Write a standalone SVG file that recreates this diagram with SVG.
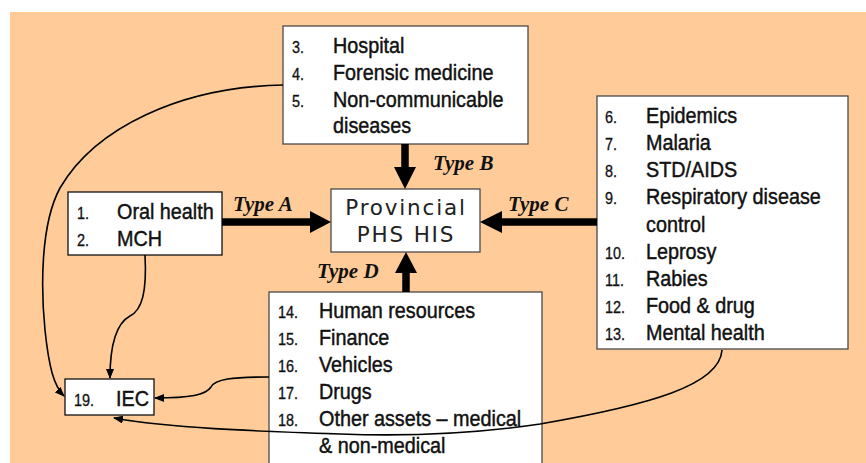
<svg xmlns="http://www.w3.org/2000/svg" width="866" height="463" viewBox="0 0 866 463">
  <style>
    .box { fill: #ffffff; stroke: #4a4a4a; stroke-width: 1.3; }
    .boxk { fill: #ffffff; stroke: #111111; stroke-width: 1.3; }
    .lbl { font-family: "Liberation Sans", Arial, sans-serif; font-size: 22px; fill: #111111; stroke: #111111; stroke-width: 0.45; }
    .num { font-family: "Liberation Sans", Arial, sans-serif; font-size: 16px; fill: #111111; stroke: #111111; stroke-width: 0.3; }
    .title { font-family: "DejaVu Sans", Verdana, sans-serif; font-size: 21.5px; letter-spacing: 1.8px; fill: #222222; text-anchor: middle; }
    .type { font-family: "Liberation Serif", "Times New Roman", serif; font-size: 21px; font-weight: bold; font-style: italic; fill: #111111; }
    .thick { stroke: #000000; stroke-width: 7.5; fill: none; }
    .head { fill: #000000; }
    .thin { stroke: #000000; stroke-width: 1.6; fill: none; marker-end: url(#tip); }
  </style>
  <defs>
    <marker id="tip" viewBox="0 0 10 8" refX="9" refY="4" markerWidth="10" markerHeight="8" markerUnits="userSpaceOnUse" orient="auto">
      <path d="M0,0 L10,4 L0,8 z" fill="#000000"/>
    </marker>
  </defs>

  <!-- peach backdrop -->
  <rect x="10" y="12" width="856" height="451" fill="#FFCC99"/>

  <!-- central node -->
  <g id="provincial-his">
    <rect class="box" x="331" y="189" width="149" height="63"/>
    <text class="title" x="406" y="215">Provincial</text>
    <text class="title" x="406" y="242">PHS HIS</text>
  </g>

  <!-- Type labels -->
  <g id="type-labels">
    <text class="type" x="233" y="211">Type A</text>
    <text class="type" x="433" y="170">Type B</text>
    <text class="type" x="508" y="211">Type C</text>
    <text class="type" x="317" y="278">Type D</text>
  </g>

  <!-- Type B sources -->
  <g id="node-b">
    <rect class="box" x="283" y="26" width="245" height="118"/>
    <text class="num" transform="translate(292 53) scale(0.9 1)">3.</text>
    <text class="num" transform="translate(292 80) scale(0.9 1)">4.</text>
    <text class="num" transform="translate(292 107) scale(0.9 1)">5.</text>
    <text class="lbl" transform="translate(333 53) scale(0.9 1)">Hospital</text>
    <text class="lbl" transform="translate(333 80) scale(0.9 1)">Forensic medicine</text>
    <text class="lbl" transform="translate(333 107) scale(0.9 1)">Non-communicable</text>
    <text class="lbl" transform="translate(333 133) scale(0.9 1)">diseases</text>
  </g>

  <!-- Type A sources -->
  <g id="node-a">
    <rect class="boxk" x="68" y="192" width="154" height="63"/>
    <text class="num" transform="translate(77 219) scale(0.9 1)">1.</text>
    <text class="num" transform="translate(77 246) scale(0.9 1)">2.</text>
    <text class="lbl" transform="translate(117 219) scale(0.9 1)">Oral health</text>
    <text class="lbl" transform="translate(117 246) scale(0.9 1)">MCH</text>
  </g>

  <!-- Type C sources -->
  <g id="node-c">
    <rect class="box" x="597" y="96" width="251" height="253"/>
    <text class="num" transform="translate(605 123) scale(0.9 1)">6.</text>
    <text class="num" transform="translate(605 150) scale(0.9 1)">7.</text>
    <text class="num" transform="translate(605 177) scale(0.9 1)">8.</text>
    <text class="num" transform="translate(605 204) scale(0.9 1)">9.</text>
    <text class="num" transform="translate(605 259) scale(0.9 1)">10.</text>
    <text class="num" transform="translate(605 286) scale(0.9 1)">11.</text>
    <text class="num" transform="translate(605 313) scale(0.9 1)">12.</text>
    <text class="num" transform="translate(605 340) scale(0.9 1)">13.</text>
    <text class="lbl" transform="translate(646 123) scale(0.9 1)">Epidemics</text>
    <text class="lbl" transform="translate(646 150) scale(0.9 1)">Malaria</text>
    <text class="lbl" transform="translate(646 177) scale(0.9 1)">STD/AIDS</text>
    <text class="lbl" transform="translate(646 204) scale(0.9 1)">Respiratory disease</text>
    <text class="lbl" transform="translate(646 232) scale(0.9 1)">control</text>
    <text class="lbl" transform="translate(646 259) scale(0.9 1)">Leprosy</text>
    <text class="lbl" transform="translate(646 286) scale(0.9 1)">Rabies</text>
    <text class="lbl" transform="translate(646 313) scale(0.9 1)">Food &amp; drug</text>
    <text class="lbl" transform="translate(646 340) scale(0.9 1)">Mental health</text>
  </g>

  <!-- Type D sources -->
  <g id="node-d">
    <rect class="box" x="269" y="292" width="273" height="180"/>
    <text class="num" transform="translate(278 318) scale(0.9 1)">14.</text>
    <text class="num" transform="translate(278 345) scale(0.9 1)">15.</text>
    <text class="num" transform="translate(278 372) scale(0.9 1)">16.</text>
    <text class="num" transform="translate(278 399) scale(0.9 1)">17.</text>
    <text class="num" transform="translate(278 426) scale(0.9 1)">18.</text>
    <text class="lbl" transform="translate(319 318) scale(0.9 1)">Human resources</text>
    <text class="lbl" transform="translate(319 345) scale(0.9 1)">Finance</text>
    <text class="lbl" transform="translate(319 372) scale(0.9 1)">Vehicles</text>
    <text class="lbl" transform="translate(319 399) scale(0.9 1)">Drugs</text>
    <text class="lbl" transform="translate(319 426) scale(0.9 1)">Other assets – medical</text>
    <text class="lbl" transform="translate(319 453) scale(0.9 1)">&amp; non-medical</text>
  </g>

  <!-- IEC -->
  <g id="node-iec">
    <rect class="boxk" x="65" y="379" width="89" height="36"/>
    <text class="num" transform="translate(74 406) scale(0.9 1)">19.</text>
    <text class="lbl" transform="translate(116 406) scale(0.9 1)">IEC</text>
  </g>

  <!-- connectors, drawn over the nodes -->
  <g id="connectors">
    <!-- Type A -->
    <line class="thick" x1="222" y1="222" x2="312" y2="222"/>
    <polygon class="head" points="310,211 331,222 310,233"/>
    <!-- Type B -->
    <line class="thick" x1="405" y1="144" x2="405" y2="169"/>
    <polygon class="head" points="394,167 416,167 405,189"/>
    <!-- Type C -->
    <line class="thick" x1="597" y1="222" x2="500" y2="222"/>
    <polygon class="head" points="502,211 480,222 502,233"/>
    <!-- Type D -->
    <line class="thick" x1="406" y1="292" x2="406" y2="271"/>
    <polygon class="head" points="395,273 417,273 406,252"/>
    <!-- feeds into IEC -->
    <path class="thin" d="M283,85 C180,87 95,128 60,188 C40,225 41,290 45,330 C49,368 54,386 64,396"/>
    <path class="thin" d="M145,255 C147,292 142,310 130,316 C117,323 110,342 110,378"/>
    <path class="thin" d="M269,377 C232,377 215,379 211,387 C206,395 190,398 155,398"/>
    <path class="thin" d="M722,350 C720,385 650,405 540,424 C480,433 420,437 340,434 C250,431 170,428 114,418"/>
  </g>
</svg>
